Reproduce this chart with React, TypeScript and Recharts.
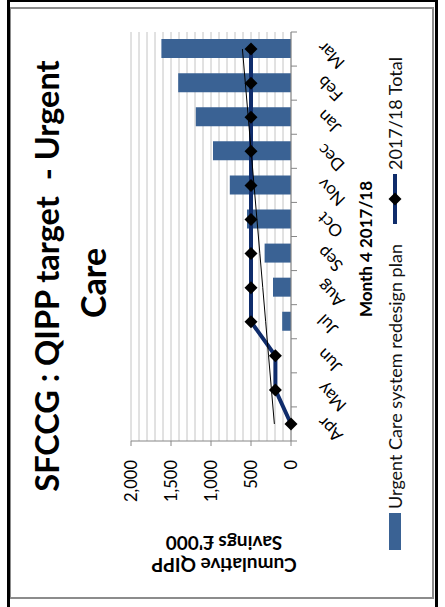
import React from "react";
import { ComposedChart, Bar, Line, XAxis, YAxis, CartesianGrid, Legend } from "recharts";

// months of the 2017/18 financial year
const MONTHS = ["Apr", "May", "Jun", "Jul", "Aug", "Sep", "Oct", "Nov", "Dec", "Jan", "Feb", "Mar"];
// cumulative QIPP savings, £'000
const PLAN = [0, 0, 0, 110, 225, 330, 550, 765, 975, 1190, 1410, 1620];
const TOTAL_2017_18 = [0, 195, 195, 500, 500, 500, 500, 500, 500, 500, 500, 500];
const Y_TICKS = [0, 500, 1000, 1500, 2000];
const GRID_VALUES = [0, 100, 200, 300, 400, 500, 600, 700, 800, 900, 1000, 1100, 1200, 1300, 1400, 1500, 1600, 1700, 1800, 1900, 2000];

const PLAN_NAME = "Urgent Care system redesign plan";
const TOTAL_NAME = "2017/18 Total";

// linear trendline on the total series, like the Excel one
const trendValues = (() => {
  const n = TOTAL_2017_18.length;
  const mx = (n - 1) / 2;
  const my = TOTAL_2017_18.reduce((a, b) => a + b, 0) / n;
  let sxy = 0;
  let sxx = 0;
  TOTAL_2017_18.forEach((v, i) => {
    sxy += (i - mx) * (v - my);
    sxx += (i - mx) * (i - mx);
  });
  const slope = sxy / sxx;
  return TOTAL_2017_18.map((_, i) => my + slope * (i - mx));
})();

const data = MONTHS.map((m, i) => ({
  month: m,
  plan: PLAN[i],
  total: TOTAL_2017_18[i],
  trend: trendValues[i],
}));

// chart is drawn upright then turned 90deg, as in the source slide
const W = 607;
const H = 445;
const MARGIN = { top: 131, right: 32, bottom: 124, left: 0 };
const Y_AXIS_W = 166;
const X_AXIS_H = 30;
const PLOT_BOTTOM = H - MARGIN.bottom - X_AXIS_H;
const BAND = (W - MARGIN.right - Y_AXIS_W) / MONTHS.length;

const BAR_COLOR = "#3a6294";
const LINE_COLOR = "#0f2c6b";
const AXIS_COLOR = "#868686";
const GRID_COLOR = "#c4c4c4";
const FONT = "Lato, 'Open Sans', sans-serif";

const Diamond = (props: any) => {
  const { cx, cy } = props;
  if (cx == null || cy == null) return null;
  const r = 6.5;
  return (
    <polygon
      points={`${cx},${cy - r} ${cx + r},${cy} ${cx},${cy + r} ${cx - r},${cy}`}
      fill="#000"
    />
  );
};

const MonthTick = (props: any) => {
  const { x, y, payload, index } = props;
  const left = x - BAND / 2;
  return (
    <g>
      <line x1={left} x2={left} y1={PLOT_BOTTOM} y2={PLOT_BOTTOM + 6} stroke={AXIS_COLOR} />
      {index === MONTHS.length - 1 && (
        <line x1={x + BAND / 2} x2={x + BAND / 2} y1={PLOT_BOTTOM} y2={PLOT_BOTTOM + 6} stroke={AXIS_COLOR} />
      )}
      <text
        x={x}
        y={y}
        dy="0.71em"
        textAnchor="end"
        transform={`rotate(-45 ${x} ${y})`}
        fontSize={17}
        fill="#000"
      >
        {payload.value}
      </text>
    </g>
  );
};

const LegendContent = () => (
  <div
    style={{
      display: "flex",
      justifyContent: "center",
      alignItems: "center",
      fontSize: 18,
      lineHeight: "20px",
      color: "#111",
      whiteSpace: "nowrap",
    }}
  >
    <span style={{ display: "inline-block", width: 37, height: 12, background: BAR_COLOR, marginRight: 4 }} />
    <span>{PLAN_NAME}</span>
    <svg width={50} height={14} style={{ marginLeft: 20, marginRight: 4 }}>
      <line x1={0} x2={50} y1={7} y2={7} stroke={LINE_COLOR} strokeWidth={4} />
      <polygon points="25,0.5 31.5,7 25,13.5 18.5,7" fill="#000" />
    </svg>
    <span>{TOTAL_NAME}</span>
  </div>
);

const Chart = () => (
  <div style={{ position: "relative", width: W, height: H, fontFamily: FONT }}>
    <ComposedChart width={W} height={H} data={data} margin={MARGIN}>
      <CartesianGrid vertical={false} horizontalValues={GRID_VALUES} stroke={GRID_COLOR} />
      <XAxis
        dataKey="month"
        height={X_AXIS_H}
        interval={0}
        tickLine={false}
        tickSize={6}
        tickMargin={19}
        axisLine={{ stroke: AXIS_COLOR }}
        tick={<MonthTick />}
      />
      <YAxis
        type="number"
        domain={[0, 2000]}
        ticks={Y_TICKS}
        interval={0}
        width={Y_AXIS_W}
        tickSize={5}
        tickMargin={14}
        tickLine={{ stroke: AXIS_COLOR }}
        axisLine={{ stroke: AXIS_COLOR }}
        tick={{ fontSize: 16.5, fill: "#000" }}
        tickFormatter={(v: number) => v.toLocaleString("en-US")}
      />
      <Bar dataKey="plan" name={PLAN_NAME} fill={BAR_COLOR} barSize={19} isAnimationActive={false} />
      <Line
        dataKey="total"
        name={TOTAL_NAME}
        stroke={LINE_COLOR}
        strokeWidth={4}
        dot={<Diamond />}
        activeDot={false}
        isAnimationActive={false}
      />
      <Line
        dataKey="trend"
        stroke="#000"
        strokeWidth={1}
        dot={false}
        activeDot={false}
        legendType="none"
        isAnimationActive={false}
      />
      <Legend
        layout="horizontal"
        align="center"
        verticalAlign="middle"
        content={<LegendContent />}
        wrapperStyle={{ left: 0, top: 385, width: W }}
      />
    </ComposedChart>

    {/* titles */}
    <svg width={W} height={H} style={{ position: "absolute", left: 0, top: 0, pointerEvents: "none" }}>
      <text x={331} y={59} textAnchor="middle" fontSize={32.5} fontWeight="bold" fill="#000" style={{ whiteSpace: "pre" }}>
        {"SFCCG : QIPP target  - Urgent"}
      </text>
      <text x={324} y={106} textAnchor="middle" fontSize={34} fontWeight="bold" fill="#000">
        Care
      </text>
      <g transform="translate(49 224) rotate(-90)">
        <text x={0} y={0} textAnchor="middle" fontSize={19} fontWeight="bold" fill="#000">
          Cumulative QIPP
        </text>
        <text x={0} y={22} textAnchor="middle" fontSize={19} fontWeight="bold" fill="#000">
          Savings £'000
        </text>
      </g>
      <text x={358} y={372} textAnchor="middle" fontSize={17} fontWeight="bold" fill="#000">
        Month 4 2017/18
      </text>
    </svg>
  </div>
);

export default function App() {
  return (
    <div style={{ position: "absolute", left: 0, top: 0, width: 445, height: 607, background: "#fff", overflow: "hidden" }}>
      <div
        style={{
          position: "absolute",
          left: (445 - W) / 2,
          top: (607 - H) / 2,
          width: W,
          height: H,
          transform: "rotate(-90deg)",
        }}
      >
        <Chart />
      </div>
      {/* slide frame */}
      <div style={{ position: "absolute", left: 9, top: 7, width: 425, height: 592, border: "2px solid #8c8c8c", boxSizing: "border-box" }} />
      <div style={{ position: "absolute", left: 7, top: 0, width: 2.5, height: 607, background: "#000" }} />
      <div style={{ position: "absolute", left: 435, top: 0, width: 2.5, height: 607, background: "#000" }} />
      <div style={{ position: "absolute", left: 7, top: 0, width: 430, height: 1.5, background: "#000" }} />
    </div>
  );
}
